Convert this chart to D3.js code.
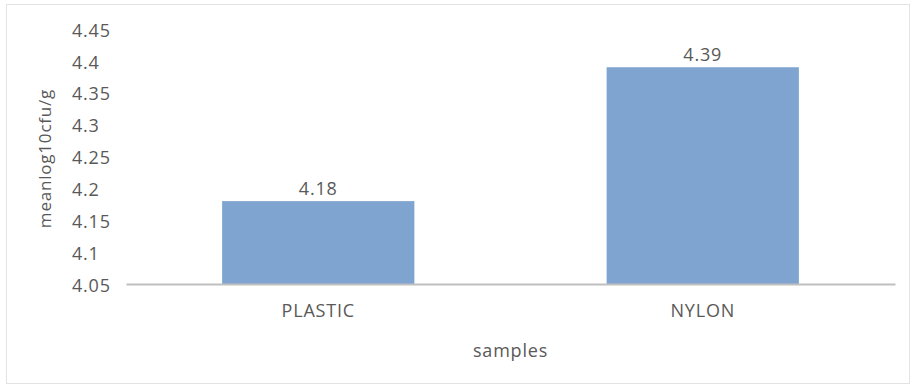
<!DOCTYPE html>
<html>
<head>
<meta charset="utf-8">
<script src="https://cdn.jsdelivr.net/npm/d3@7"></script>
<style>
  html, body { margin: 0; padding: 0; background: #fff; }
  svg { display: block; }
  text { font-family: "Open Sans", "Noto Sans", sans-serif; fill: #595959; letter-spacing: 0.8px; }
</style>
</head>
<body>
<svg id="chart" width="912" height="387"></svg>
<script>
// Mean log10 CFU/g per sample type
const categories = ["PLASTIC", "NYLON"];
const meanValues = [4.18, 4.39];
const yTicks = [4.05, 4.1, 4.15, 4.2, 4.25, 4.3, 4.35, 4.4, 4.45];
const yTitle = "meanlog10cfu/g";
const xTitle = "samples";

const svg = d3.select("#chart");

// chart area outline
svg.append("rect")
  .attr("x", 6.5).attr("y", 4.5)
  .attr("width", 903).attr("height", 379)
  .attr("fill", "#fff")
  .attr("stroke", "#e3e3e3");

const plot = { left: 126, right: 895, top: 29, bottom: 284 };

const x = d3.scaleBand()
  .domain(categories)
  .range([plot.left, plot.right])
  .paddingInner(0.5)
  .paddingOuter(0.25);

const y = d3.scaleLinear()
  .domain([4.05, 4.45])
  .range([plot.bottom, plot.top]);

// y tick labels, left-aligned
const yAxis = svg.append("g")
  .attr("transform", `translate(${plot.left},0)`)
  .call(d3.axisLeft(y).tickValues(yTicks).tickSize(0).tickFormat(d3.format("")));
yAxis.select(".domain").remove();
yAxis.selectAll("text")
  .attr("x", 72 - plot.left)
  .attr("text-anchor", "start")
  .attr("dy", "0.4em")
  .style("font-size", "18px")
  .style("fill", "#595959");

// bars
svg.append("g").selectAll("rect")
  .data(categories)
  .join("rect")
  .attr("x", d => x(d))
  .attr("width", x.bandwidth())
  .attr("y", (d, i) => y(meanValues[i]))
  .attr("height", (d, i) => y(4.05) - y(meanValues[i]))
  .attr("fill", "#7ea4cf");

// value labels
svg.append("g").selectAll("text")
  .data(categories)
  .join("text")
  .attr("x", d => x(d) + x.bandwidth() / 2)
  .attr("y", (d, i) => y(meanValues[i]) - 6)
  .attr("text-anchor", "middle")
  .style("font-size", "18px")
  .text((d, i) => meanValues[i].toFixed(2));

// x axis line and category labels
const xAxis = svg.append("g")
  .attr("transform", `translate(0,${plot.bottom})`)
  .call(d3.axisBottom(x).tickSize(0).tickSizeOuter(0));
xAxis.select(".domain")
  .attr("stroke", "#bfbfbf")
  .attr("stroke-width", 2);
xAxis.selectAll("text")
  .attr("y", 33)
  .attr("dy", "0")
  .style("font-size", "18px")
  .style("fill", "#595959");

// axis titles
svg.append("text")
  .attr("x", (plot.left + plot.right) / 2)
  .attr("y", 357)
  .attr("text-anchor", "middle")
  .style("font-size", "18px")
  .text(xTitle);

svg.append("text")
  .attr("transform", `translate(51,${(plot.top + plot.bottom) / 2 + 2}) rotate(-90)`)
  .attr("text-anchor", "middle")
  .style("font-size", "17px")
  .text(yTitle);
</script>
</body>
</html>
